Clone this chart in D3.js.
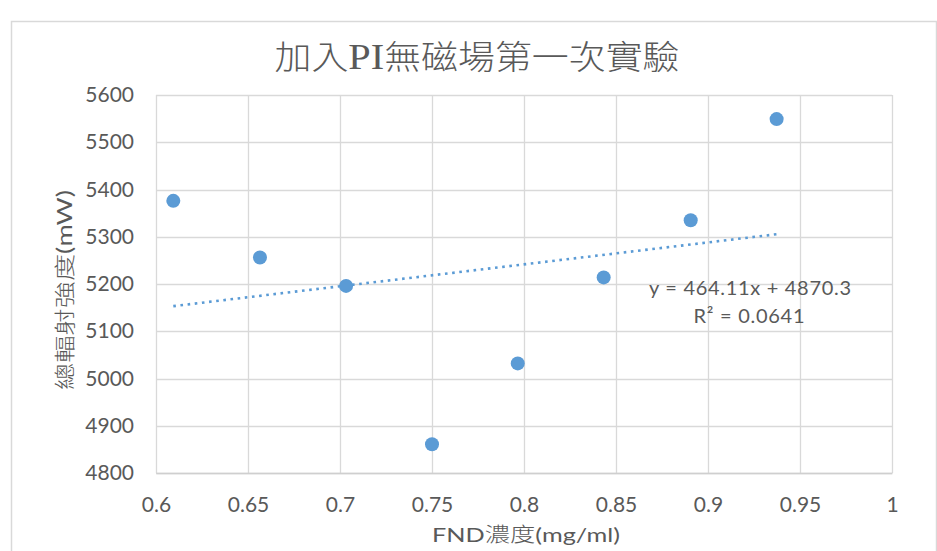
<!DOCTYPE html>
<html>
<head>
<meta charset="utf-8">
<script src="https://cdn.jsdelivr.net/npm/d3@7"></script>
<style>
  html, body { margin: 0; padding: 0; background: #ffffff; }
  svg { display: block; }
</style>
</head>
<body>
<svg id="chart" width="937" height="551"></svg>
<script>
// ---- data ----
const titleText = "加入PI無磁場第一次實驗";
const xAxisTitle = "FND濃度(mg/ml)";
const yAxisTitle = "總輻射強度(mW)";
const xValues = [0.6094, 0.6565, 0.7033, 0.7500, 0.7966, 0.8433, 0.8906, 0.9373];
const yValues = [5376, 5256, 5196, 4861, 5032, 5214, 5335, 5549];
const xTicks = [0.6, 0.65, 0.7, 0.75, 0.8, 0.85, 0.9, 0.95, 1];
const xTickLabels = ["0.6", "0.65", "0.7", "0.75", "0.8", "0.85", "0.9", "0.95", "1"];
const yTicks = [4800, 4900, 5000, 5100, 5200, 5300, 5400, 5500, 5600];
const trendSlope = 464.11;
const trendIntercept = 4870.3;
const equationLines = ["y = 464.11x + 4870.3", "R² = 0.0641"];

// ---- layout ----
const svg = d3.select("#chart");
const plot = { left: 156, right: 892, top: 95, bottom: 473 };
const textColor = "#595959";
const gridColor = "#d9d9d9";
const pointColor = "#5b9bd5";
const latin = "Lato, 'Open Sans', sans-serif";
const cjk = "'Noto Sans CJK TC', 'Noto Sans CJK SC', sans-serif";

const x = d3.scaleLinear().domain([0.6, 1]).range([plot.left, plot.right]);
const y = d3.scaleLinear().domain([4800, 5600]).range([plot.bottom, plot.top]);

// outer chart border
svg.append("rect")
  .attr("x", 11.5).attr("y", 21.5)
  .attr("width", 925).attr("height", 560)
  .attr("fill", "#ffffff")
  .attr("stroke", gridColor).attr("stroke-width", 1.5);

// gridlines
const grid = svg.append("g");
grid.selectAll("line.h").data(yTicks).join("line")
  .attr("class", "h")
  .attr("x1", plot.left).attr("x2", plot.right)
  .attr("y1", d => Math.round(y(d)) + 0.5).attr("y2", d => Math.round(y(d)) + 0.5)
  .attr("stroke", gridColor).attr("stroke-width", 1.3);
grid.selectAll("line.v").data(xTicks).join("line")
  .attr("class", "v")
  .attr("y1", plot.top).attr("y2", plot.bottom)
  .attr("x1", d => Math.round(x(d)) + 0.5).attr("x2", d => Math.round(x(d)) + 0.5)
  .attr("stroke", gridColor).attr("stroke-width", 1.3);

// axes (labels only, via d3 axis generators)
const yAxis = d3.axisLeft(y).tickValues(yTicks).tickSize(0).tickPadding(22).tickFormat(d3.format("d"));
const gy = svg.append("g").attr("transform", `translate(${plot.left},0)`).call(yAxis);
gy.select(".domain").remove();
gy.selectAll("text")
  .attr("fill", textColor)
  .style("font-family", latin)
  .style("font-size", "21px");

const xAxis = d3.axisBottom(x).tickValues(xTicks).tickSize(0).tickPadding(24)
  .tickFormat((d, i) => xTickLabels[i]);
const gx = svg.append("g").attr("transform", `translate(0,${plot.bottom})`).call(xAxis);
gx.select(".domain")
  .attr("stroke", "#cfcfcf").attr("stroke-width", 1.5);
gx.selectAll("text")
  .attr("fill", textColor)
  .style("font-family", latin)
  .style("font-size", "21px");

// trendline
const xMin = d3.min(xValues), xMax = d3.max(xValues);
svg.append("line")
  .attr("x1", x(xMin)).attr("y1", y(trendSlope * xMin + trendIntercept))
  .attr("x2", x(xMax)).attr("y2", y(trendSlope * xMax + trendIntercept))
  .attr("stroke", pointColor)
  .attr("stroke-width", 2.6)
  .attr("stroke-dasharray", "2.6,4.6");

// points
svg.append("g").selectAll("circle")
  .data(xValues.map((v, i) => [v, yValues[i]]))
  .join("circle")
  .attr("cx", d => x(d[0]))
  .attr("cy", d => y(d[1]))
  .attr("r", 7)
  .attr("fill", pointColor);

// equation label
svg.append("text")
  .attr("x", 750).attr("y", 295)
  .attr("text-anchor", "middle")
  .attr("fill", textColor)
  .style("font-family", latin)
  .style("font-size", "20px")
  .attr("textLength", 202).attr("lengthAdjust", "spacing")
  .text(equationLines[0]);
svg.append("text")
  .attr("x", 749).attr("y", 323)
  .attr("text-anchor", "middle")
  .attr("fill", textColor)
  .style("font-family", latin)
  .style("font-size", "20px")
  .attr("textLength", 111).attr("lengthAdjust", "spacing")
  .text(equationLines[1]);

// title
const title = svg.append("text")
  .attr("x", 477).attr("y", 69)
  .attr("text-anchor", "middle")
  .attr("fill", textColor)
  .style("font-family", cjk)
  .style("font-weight", 300)
  .style("font-size", "33px")
  .attr("textLength", 405).attr("lengthAdjust", "spacingAndGlyphs");
title.append("tspan").text(titleText.slice(0, 2));
title.append("tspan")
  .style("font-family", "'Liberation Serif', 'DejaVu Serif', serif")
  .style("font-weight", 400)
  .style("font-size", "36px")
  .text(titleText.slice(2, 4));
title.append("tspan").text(titleText.slice(4));

// x axis title
svg.append("text")
  .attr("x", 526)
  .attr("y", 542)
  .attr("text-anchor", "middle")
  .attr("fill", textColor)
  .style("font-family", latin)
  .style("font-size", "20px")
  .attr("textLength", 188).attr("lengthAdjust", "spacingAndGlyphs")
  .call(t => {
    t.append("tspan").text("FND");
    t.append("tspan").style("font-family", cjk).style("font-weight", 300).text("濃度");
    t.append("tspan").text("(mg/ml)");
  });

// y axis title
svg.append("text")
  .attr("transform", `translate(72,290) rotate(-90)`)
  .attr("text-anchor", "middle")
  .attr("fill", textColor)
  .style("font-size", "21px")
  .attr("textLength", 200).attr("lengthAdjust", "spacingAndGlyphs")
  .call(t => {
    t.append("tspan").style("font-family", cjk).style("font-weight", 300).text("總輻射強度");
    t.append("tspan").style("font-family", latin).text("(mW)");
  });
</script>
</body>
</html>
